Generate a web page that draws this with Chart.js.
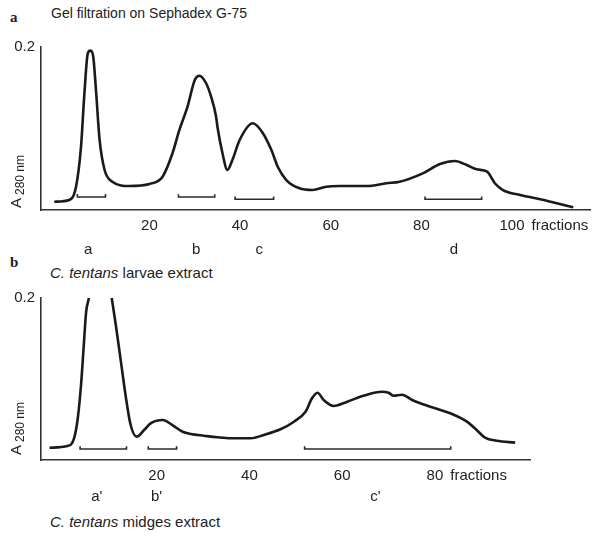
<!DOCTYPE html>
<html>
<head>
<meta charset="utf-8">
<script src="https://cdn.jsdelivr.net/npm/chart.js@4/dist/chart.umd.min.js"></script>
<style>
  body { margin: 0; background: #fff; }
  #page { position: relative; width: 600px; height: 545px; font-family: "Liberation Sans", sans-serif; color: #222; }
  .txt { position: absolute; white-space: nowrap; }
  .lbl { position: absolute; font: bold 15px "Liberation Serif", serif; }
  #boxA { position: absolute; left: 0; top: 0; width: 600px; height: 260px; }
  #boxB { position: absolute; left: 0; top: 260px; width: 600px; height: 285px; }
</style>
</head>
<body>
<div id="page">
  <div class="lbl" style="left:10px; top:9px">a</div>
  <div class="txt" style="left:51px; top:5px; font-size:14px">Gel filtration on Sephadex G-75</div>
  <div class="lbl" style="left:10px; top:254px">b</div>
  <div class="txt" style="left:50px; top:264px; font-size:15px"><i>C. tentans</i> larvae extract</div>
  <div class="txt" style="left:50px; top:513px; font-size:15px"><i>C. tentans</i> midges extract</div>
  <div id="boxA"><canvas id="chartA"></canvas></div>
  <div id="boxB"><canvas id="chartB"></canvas></div>
</div>
<script>
// panel a, Sephadex G-75, larvae
const fracA = [-1.0, 2.3, 3.8, 4.9, 5.6, 6.4, 7.0, 7.6, 8.2, 9.0, 10.1, 11.8, 15.6, 20.0, 22.9, 25.1, 26.6, 28.4,
  30.0, 31.0, 32.5, 33.6, 34.7, 35.0, 36.1, 37.2, 38.3, 39.9, 42.8, 45.0, 46.9, 48.3, 50.2, 53.1, 56.0, 59.0,
  62.0, 67.9, 72.3, 75.2, 80.3, 84.1, 87.4, 90.0, 92.2, 94.5, 96.2, 98.0, 101.8, 106.2, 109.9, 113.5]
const absA = [0.0102, 0.0123, 0.0286, 0.0777, 0.139, 0.1923, 0.1955, 0.188, 0.147, 0.0859, 0.0491, 0.0347, 0.0294,
  0.0319, 0.0409, 0.0699, 0.0982, 0.1268, 0.1595, 0.1648, 0.1555, 0.139, 0.1145, 0.1022, 0.0699, 0.0491, 0.0613,
  0.0859, 0.1064, 0.0945, 0.0736, 0.0531, 0.0368, 0.0266, 0.0245, 0.0286, 0.0294, 0.0294, 0.0328, 0.0347, 0.045,
  0.0564, 0.0601, 0.0552, 0.0499, 0.047, 0.0328, 0.0245, 0.0184, 0.0131, 0.0082, 0.0033]
const pooledStartA = [4.1, 26.4, 38.9, 80.8]
const pooledEndA = [10.3, 34.4, 47.4, 93.3]
const pooledLevelA = [0.016, 0.0159, 0.0131, 0.0131]
const poolNamesA = ['a', 'b', 'c', 'd']
const poolNameAtA = [6.5, 30.3, 44.2, 87.2]
const xTicksA = [20, 40, 60, 80, 100]

// panel b, midges (first peak runs off scale)
const fracB = [-3.1, 0.8, 2.2, 3.0, 3.7, 4.3, 4.8, 5.3, 8.2, 10.35, 11.2, 12.3, 13.4, 14.4, 15.7, 17.3, 18.7,
  21.3, 23.4, 25.6, 27.4, 30.2, 33.1, 36.0, 40.3, 43.1, 46.7, 49.6, 52.1, 53.5, 54.7, 56.0, 58.2, 61.1, 64.6,
  68.6, 70.0, 71.1, 72.9, 75.1, 79.0, 83.3, 86.9, 89.0, 90.8, 93.3, 97.3]
const absB = [0.0152, 0.0173, 0.0268, 0.0515, 0.0926, 0.142, 0.183, 0.1975, 0.28, 0.1988, 0.1667, 0.1214, 0.0762,
  0.0432, 0.0288, 0.037, 0.0453, 0.0494, 0.0432, 0.0349, 0.0321, 0.03, 0.028, 0.0268, 0.0268, 0.0309, 0.0379,
  0.0473, 0.0596, 0.0762, 0.0831, 0.0741, 0.0667, 0.072, 0.0794, 0.0843, 0.0831, 0.0794, 0.0806, 0.0741, 0.0658,
  0.0577, 0.0473, 0.037, 0.0275, 0.0238, 0.0214]
const pooledStartB = [3.5, 18.2, 51.9]
const pooledEndB = [13.5, 24.3, 83.4]
const pooledLevelB = [0.0136, 0.0136, 0.0136]
const poolNamesB = ["a'", "b'", "c'"]
const poolNameAtB = [7.1, 20.0, 67.2]
const xTicksB = [20, 40, 60, 80]

const yTicks = [0.2]

const ink = '#1a1a1a'
const font = '"Liberation Sans", sans-serif'

const extras = {
	id: 'extras',
	afterDraw(chart, args, o) {
		const { ctx, chartArea } = chart
		const x = chart.scales.x
		ctx.save()
		ctx.fillStyle = '#222'
		ctx.font = '15px ' + font
		ctx.textBaseline = 'middle'
		ctx.textAlign = 'center'
		o.names.forEach((n, i) => ctx.fillText(n, x.getPixelForValue(o.at[i]), chartArea.bottom + o.namesDy))
		// "fractions" after the last tick
		const last = o.ticks[o.ticks.length - 1]
		ctx.textAlign = 'left'
		ctx.fillText('fractions', x.getPixelForValue(last) + ctx.measureText(String(last)).width / 2 + 7, chartArea.bottom + 16)
		// A 280 nm, rotated
		ctx.translate(17, chartArea.bottom - o.aDy)
		ctx.rotate(-Math.PI / 2)
		ctx.textBaseline = 'middle'
		ctx.font = '15px ' + font
		ctx.fillText('A', 0, 0)
		ctx.font = '12px ' + font
		ctx.fillText('280 nm', 13, 4)
		ctx.restore()
	},
}

function bracketSets(starts, ends, levels, hook) {
	return starts.map((s, i) => ({
		data: [
			{ x: s, y: levels[i] + hook },
			{ x: s, y: levels[i] },
			{ x: ends[i], y: levels[i] },
			{ x: ends[i], y: levels[i] + hook },
		],
		borderColor: '#2a2a2a',
		borderWidth: 1.6,
		pointRadius: 0,
		tension: 0,
	}))
}

function makeConfig(frac, abs, brackets, xMin, xMax, xTicks, yMax, axisH, padRight, padTop, extra) {
	return {
		type: 'line',
		data: {
			datasets: [
				{
					data: frac.map((f, i) => ({ x: f, y: abs[i] })),
					borderColor: ink,
					borderWidth: 2.6,
					pointRadius: 0,
					tension: 0.35,
					cubicInterpolationMode: 'monotone',
					clip: 0,
				},
				...brackets,
			],
		},
		options: {
			animation: false,
			responsive: true,
			maintainAspectRatio: false,
			layout: { padding: { top: padTop, right: padRight, left: 0, bottom: 0 } },
			plugins: { legend: { display: false }, tooltip: { enabled: false }, extras: extra },
			scales: {
				x: {
					type: 'linear',
					min: xMin,
					max: xMax,
					grid: { display: false, drawTicks: false, tickLength: 0 },
					border: { display: true, color: '#333', width: 1.6 },
					ticks: { color: '#222', font: { family: font, size: 15 }, padding: 7, maxRotation: 0 },
					afterBuildTicks: (s) => { s.ticks = xTicks.map((v) => ({ value: v })) },
					afterFit: (s) => { s.height = axisH },
				},
				y: {
					min: 0,
					max: yMax,
					grid: { display: false, drawTicks: false, tickLength: 0 },
					border: { display: true, color: '#333', width: 1.6 },
					ticks: { color: '#222', font: { family: font, size: 15 }, padding: 6, callback: (v) => v.toFixed(1) },
					afterBuildTicks: (s) => { s.ticks = yTicks.map((v) => ({ value: v })) },
					afterFit: (s) => { s.width = 41 },
				},
			},
		},
		plugins: [extras],
	}
}

window.onload = function () {
	new Chart(document.getElementById('chartA'), makeConfig(
		fracA, absA, bracketSets(pooledStartA, pooledEndA, pooledLevelA, 0.0035),
		-3.93, 117.2, xTicksA, 0.2, 50, 10, 47,
		{ names: poolNamesA, at: poolNameAtA, namesDy: 40, ticks: xTicksA, aDy: 2 },
	))
	new Chart(document.getElementById('chartB'), makeConfig(
		fracB, absB, bracketSets(pooledStartB, pooledEndB, pooledLevelB, 0.0035),
		-4.93, 100.5, xTicksB, 0.2, 85, 70, 38,
		{ names: poolNamesB, at: poolNameAtB, namesDy: 37, ticks: xTicksB, aDy: 5 },
	))
}
</script>
</body>
</html>
